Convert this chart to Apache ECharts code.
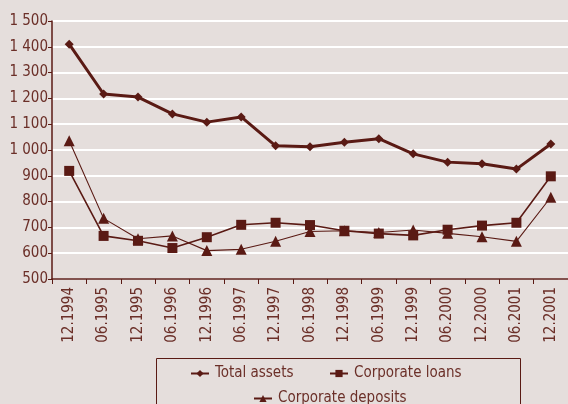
<!DOCTYPE html>
<html>
<head>
<meta charset="utf-8">
<script src="https://cdn.jsdelivr.net/npm/echarts@6/dist/echarts.min.js"></script>
<style>
  html, body { margin: 0; padding: 0; background: #e5dedc; }
  #chart { width: 568px; height: 404px; }
</style>
</head>
<body>
<div id="chart"></div>
<script>
var categories = ['12.1994','06.1995','12.1995','06.1996','12.1996','06.1997','12.1997','06.1998',
                  '12.1998','06.1999','12.1999','06.2000','12.2000','06.2001','12.2001'];
var totalAssets = [1410,1217,1205,1140,1108,1128,1016,1013,1030,1044,985,953,947,926,1023];
var corporateLoans = [919,667,648,620,662,710,718,709,687,676,669,691,707,718,898];
var corporateDeposits = [1036,735,656,667,610,615,646,684,687,680,690,677,664,646,817];

var brown = '#5a1a14';
var textBrown = '#6b2f28';

// pick a condensed face if one is installed
function hasFont(name) {
    var ctx = document.createElement('canvas').getContext('2d');
    var s = 'Corporate deposits 1 500';
    ctx.font = '20px monospace';
    var a = ctx.measureText(s).width;
    ctx.font = '20px "' + name + '", monospace';
    return ctx.measureText(s).width !== a;
}
var font = '"Liberation Sans", sans-serif';
var fs = 14;
[['Liberation Sans Narrow', 17], ['DejaVu Sans Condensed', 15], ['Roboto Condensed', 16]].some(function (f) {
    if (hasFont(f[0])) { font = '"' + f[0] + '", sans-serif'; fs = f[1]; return true; }
    return false;
});

function legendItem(name, left, top) {
    return {
        data: [name], left: left, top: top,
        itemWidth: 18, itemHeight: 9, itemGap: 0,
        textStyle: { color: textBrown, fontSize: fs, fontFamily: font, padding: [0, 0, 0, 1] }
    };
}

var chart = echarts.init(document.getElementById('chart'));
chart.setOption({
    backgroundColor: '#e5dedc',
    animation: false,
    grid: { left: 52, top: 21, right: -3, bottom: 125 },
    legend: [
        legendItem('Total assets', 185, 361),
        legendItem('Corporate loans', 324, 361),
        legendItem('Corporate deposits', 248, 386)
    ],
    graphic: [{
        type: 'rect',
        shape: { x: 156.5, y: 358.5, width: 364, height: 60 },
        style: { fill: 'none', stroke: brown, lineWidth: 1 }
    }],
    xAxis: {
        type: 'category',
        data: categories,
        boundaryGap: true,
        axisLine: { lineStyle: { color: brown, width: 1.5 } },
        axisTick: { show: true, length: 5, lineStyle: { color: brown } },
        axisLabel: { rotate: 90, color: textBrown, fontSize: fs, fontFamily: font, margin: 8 }
    },
    yAxis: {
        type: 'value',
        min: 500, max: 1500, interval: 100,
        axisLine: { show: true, lineStyle: { color: brown, width: 1.5 } },
        axisTick: { show: true, length: 4, lineStyle: { color: brown } },
        splitLine: { lineStyle: { color: '#ffffff', width: 2 } },
        axisLabel: {
            color: textBrown, fontSize: fs, fontFamily: font, margin: 4,
            formatter: function (v) {
                return v >= 1000 ? Math.floor(v / 1000) + ' ' + String(v % 1000).padStart(3, '0') : String(v);
            }
        }
    },
    series: [
        {
            name: 'Total assets', type: 'line', data: totalAssets,
            symbol: 'diamond', symbolSize: 9,
            lineStyle: { color: brown, width: 3 },
            itemStyle: { color: brown }
        },
        {
            name: 'Corporate loans', type: 'line', data: corporateLoans,
            symbol: 'rect', symbolSize: 10,
            lineStyle: { color: brown, width: 1.6 },
            itemStyle: { color: brown }
        },
        {
            name: 'Corporate deposits', type: 'line', data: corporateDeposits,
            symbol: 'triangle', symbolSize: 11,
            lineStyle: { color: brown, width: 1.1 },
            itemStyle: { color: brown }
        }
    ]
});
</script>
</body>
</html>
